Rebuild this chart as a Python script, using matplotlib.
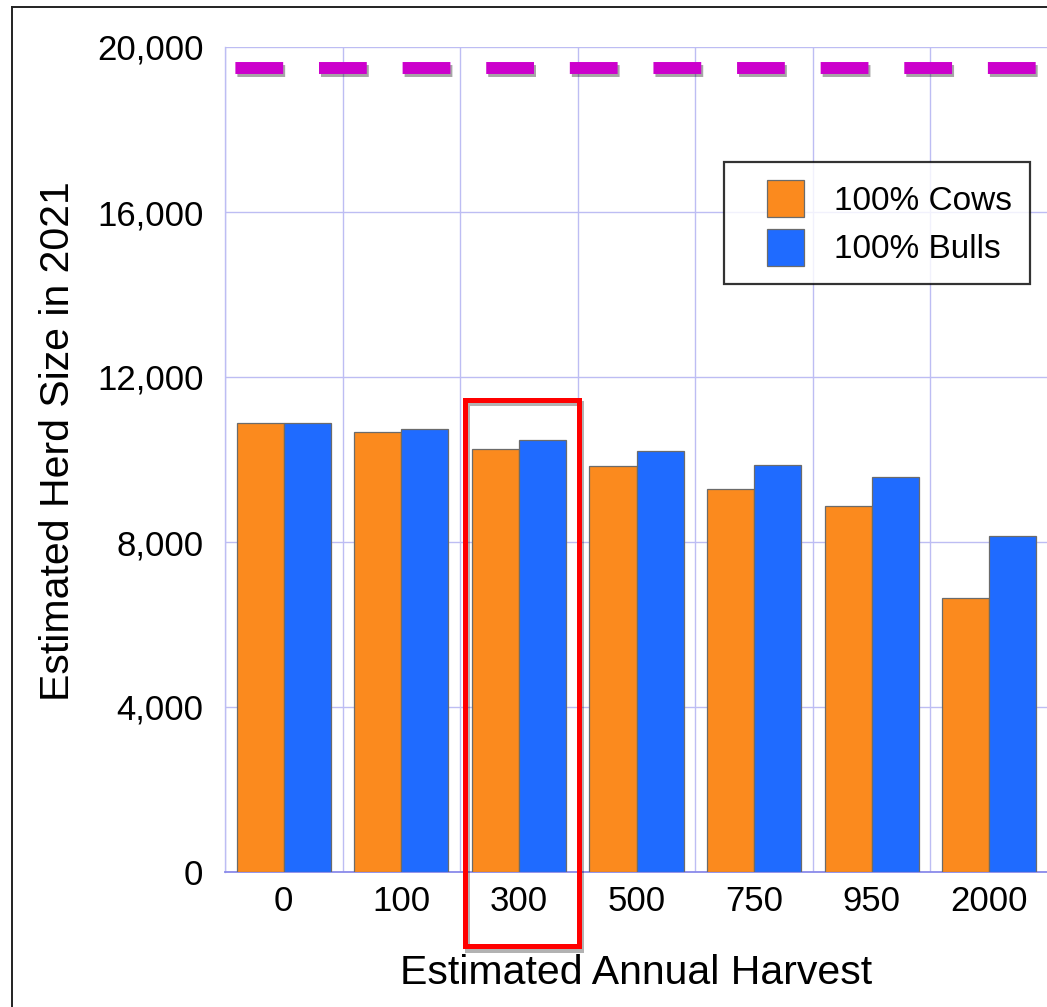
import numpy as np
import matplotlib
matplotlib.use("Agg")
from matplotlib import pyplot as plt
from matplotlib import patheffects as pe
from matplotlib.lines import Line2D
from matplotlib.patches import Patch
from matplotlib.legend_handler import HandlerPatch
from matplotlib.ticker import FuncFormatter, MultipleLocator

plt.rcParams['font.family'] = ['Liberation Sans', 'DejaVu Sans']

# data
harvest = ['0', '100', '300', '500', '750', '950', '2000']
cows = [10890, 10670, 10250, 9840, 9290, 8880, 6640]
bulls = [10890, 10750, 10480, 10210, 9870, 9580, 8150]
series = ['100% Cows', '100% Bulls']
target = 19500
highlight = '300'

orange = '#FB8A1E'
blue = '#1F6BFF'
edge = '#6b6b6b'
grid_col = '#BDBDF3'

fig = plt.figure(figsize=(10.47, 10.07), dpi=100)
ax = fig.add_axes([225 / 1047, 135 / 1007, 823 / 1047, 825 / 1007])

x = np.arange(len(harvest))
w = 0.4
ax.bar(x - w / 2, cows, w, color=orange, edgecolor=edge, linewidth=0.9, zorder=3)
ax.bar(x + w / 2, bulls, w, color=blue, edgecolor=edge, linewidth=0.9, zorder=3)

# dashed target line
ax.axhline(target, color='#CC00CC', lw=8.6, linestyle=(6.13, (4.0, 3.0)),
           dash_capstyle='butt', zorder=4,
           path_effects=[pe.SimpleLineShadow(offset=(1.5, -2.5), alpha=0.35),
                         pe.Normal()])

# red box round the highlighted group
i = harvest.index(highlight)
bx = [i - 0.46, i + 0.51, i + 0.51, i - 0.46, i - 0.46]
by = [11450, 11450, -1800, -1800, 11450]
ax.plot(bx, by, color='#FF0000', lw=3.6, clip_on=False, zorder=6,
        solid_joinstyle='miter',
        path_effects=[pe.SimpleLineShadow(offset=(1.5, -2.5), alpha=0.3),
                      pe.Normal()])

ax.set_xlim(-0.5, len(harvest) - 0.5)
ax.set_ylim(0, 20000)
ax.set_xticks(x)
ax.set_xticklabels(harvest)
ax.xaxis.set_minor_locator(MultipleLocator(1, offset=0.5))
ax.yaxis.set_major_locator(MultipleLocator(4000))
ax.yaxis.set_major_formatter(FuncFormatter(lambda v, p: '{:,.0f}'.format(v)))

ax.grid(which='minor', axis='x', color=grid_col, lw=1.0, zorder=0)
ax.grid(which='major', axis='y', color=grid_col, lw=1.0, zorder=0)
ax.set_axisbelow(True)

ax.tick_params(which='both', length=0)
ax.tick_params(axis='y', labelsize=25, pad=15.5)
ax.tick_params(axis='x', labelsize=25, pad=9.5)

for s in ['top', 'right']:
    ax.spines[s].set_visible(False)
ax.spines['left'].set_color(grid_col)
ax.spines['left'].set_linewidth(1.0)
ax.spines['bottom'].set_color('#8A8AEA')
ax.spines['bottom'].set_linewidth(1.3)

ax.set_xlabel('Estimated Annual Harvest', fontsize=29.5)
ax.xaxis.set_label_coords(0.5, -0.099)
ax.set_ylabel('Estimated Herd Size in 2021', fontsize=29.5)
ax.yaxis.set_label_coords(-0.18, 0.522)

handles = [Patch(facecolor=orange, edgecolor=edge, lw=0.9),
           Patch(facecolor=blue, edgecolor=edge, lw=0.9)]
leg = ax.legend(handles, series, loc='upper right',
                bbox_to_anchor=(1030 / 1047, 1 - 162 / 1007),
                bbox_transform=fig.transFigure, fontsize=24, frameon=True,
                fancybox=False, handlelength=1.85, handleheight=1.32,
                handletextpad=0.9, labelspacing=0.35, borderpad=0.55,
                borderaxespad=0, handler_map={Patch: HandlerPatch(xpad=0.75)})
leg.get_frame().set_edgecolor('black')
leg.get_frame().set_linewidth(1.6)
leg.set_zorder(7)

# page frame
fig.add_artist(Line2D([11.5 / 1047, 11.5 / 1047], [0, 1 - 6.5 / 1007],
                      transform=fig.transFigure, color='#222222', lw=1.4))
fig.add_artist(Line2D([11.5 / 1047, 1], [1 - 6.5 / 1007, 1 - 6.5 / 1007],
                      transform=fig.transFigure, color='#222222', lw=1.4))

fig.savefig('out.png', dpi=100)
